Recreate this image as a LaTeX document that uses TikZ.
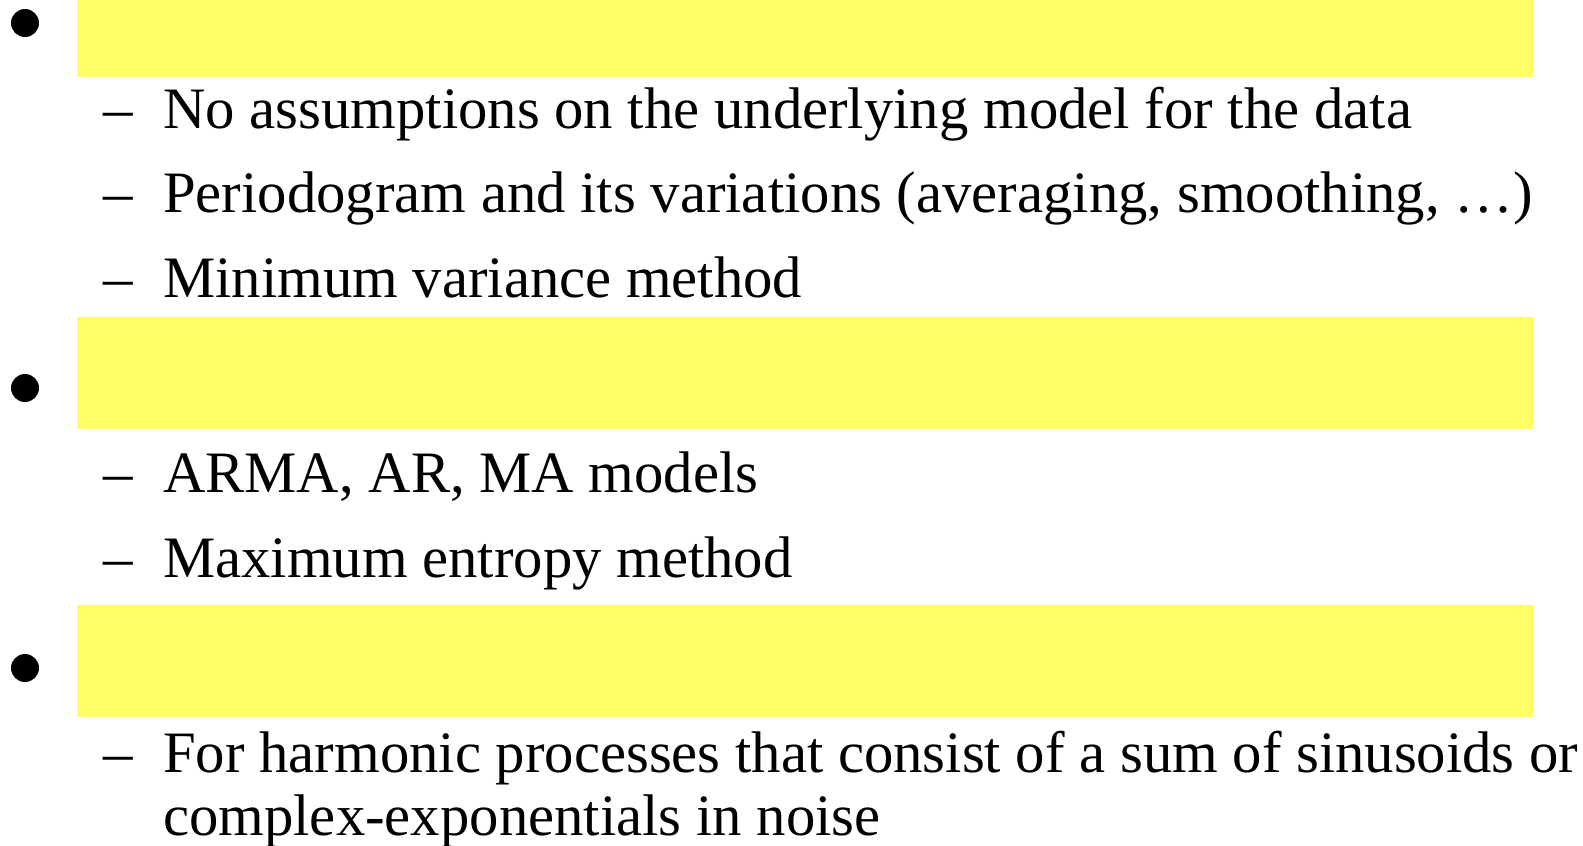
\documentclass[tikz,border=0pt]{standalone}
\usepackage{fontspec}
\setmainfont{Liberation Serif}
\definecolor{hl}{RGB}{255,255,102}
\begin{document}
\begin{tikzpicture}[x=1pt,y=1pt,
  bul/.style={circle,fill=black,minimum size=28pt,inner sep=0},
  itemtxt/.style={anchor=base west,inner sep=0,font=\fontsize{58.7}{68}\selectfont},
  dashtxt/.style={anchor=base west,inner sep=0,font=\fontsize{59}{68}\selectfont}]
\useasboundingbox (0,0) rectangle (1583,-846);
% highlight boxes
\fill[hl] (77,0) rectangle (1533,-77);
\fill[hl] (77,-317) rectangle (1533,-429);
\fill[hl] (77,-605) rectangle (1533,-717);
% bullets
\node[bul] (b1) at (25,-23) {};
\node[bul] (b2) at (25,-388) {};
\node[bul] (b3) at (25,-668) {};
% sub items
\node[dashtxt] (d1) at (103,-128) {–};
\node[itemtxt] (t1) at (163,-128) {No assumptions on the underlying model for the data};
\node[dashtxt] (d2) at (103,-212) {–};
\node[itemtxt] (t2) at (163,-212) {Periodogram and its variations (averaging, smoothing, …)};
\node[dashtxt] (d3) at (103,-297) {–};
\node[itemtxt] (t3) at (163,-297) {Minimum variance method};
\node[dashtxt] (d4) at (103,-492) {–};
\node[itemtxt] (t4) at (163,-492) {ARMA, AR, MA models};
\node[dashtxt] (d5) at (103,-577) {–};
\node[itemtxt] (t5) at (163,-577) {Maximum entropy method};
\node[dashtxt] (d6) at (103,-772) {–};
\node[itemtxt] (t6) at (163,-772) {For harmonic processes that consist of a sum of sinusoids or};
\node[itemtxt] (t7) at (163,-835) {complex-exponentials in noise};
\end{tikzpicture}
\end{document}
